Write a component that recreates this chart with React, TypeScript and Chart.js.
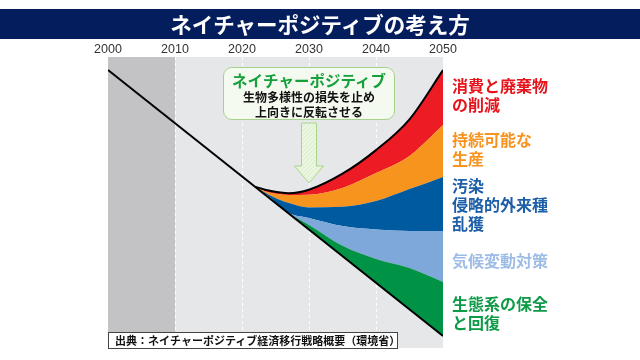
import React, { useEffect, useRef } from "react";
import { Chart, registerables } from "chart.js";

Chart.register(...registerables);

// ---- data ----
const tickYears = [2000, 2010, 2020, 2030, 2040, 2050];
const baselineYears = [2000, 2050];
const baselineValues = [95.5, 4.1];
const curveYears = [2022, 2024, 2027, 2030, 2035, 2040, 2045, 2050];
const topCurve = [55.3, 54.1, 53.2, 54.4, 59.9, 68.0, 78.6, 95.5];
const redOrange = [55.3, 53.4, 52.6, 52.7, 55.0, 60.1, 66.0, 76.6];
const orangeBlue = [55.3, 52.7, 49.8, 48.3, 48.5, 50.5, 54.6, 58.8];
const blueLight = [55.3, 52.1, 46.4, 44.7, 41.9, 40.7, 40.2, 40.2];
const lightGreen = [55.3, 51.6, 46.3, 42.3, 35.1, 30.6, 27.5, 22.7];
const periodStarts = [2000, 2010];
const periodEnds = [2010, 2050];

const titleText = "ネイチャーポジティブの考え方";
const calloutTitle = "ネイチャーポジティブ";
const calloutLines = ["生物多様性の損失を止め", "上向きに反転させる"];
const sourceText = "出典：ネイチャーポジティブ経済移行戦略概要（環境省）";
const labelRed = ["消費と廃棄物", "の削減"];
const labelOrange = ["持続可能な", "生産"];
const labelBlue = ["汚染", "侵略的外来種", "乱獲"];
const labelLight = ["気候変動対策"];
const labelGreen = ["生態系の保全", "と回復"];

const periodColors = ["#c3c3c5", "#e6e7e9"];
const JP = '"Noto Sans CJK JP", "Noto Sans", sans-serif';

const pts = (xs: number[], ys: number[]) => xs.map((x, i) => ({ x, y: ys[i] }));

const bgPlugin = {
  id: "bgPeriods",
  beforeDraw(chart: any) {
    const { ctx, chartArea, scales } = chart;
    const x = scales.x;
    ctx.save();
    periodStarts.forEach((s, i) => {
      const x0 = x.getPixelForValue(s);
      const x1 = x.getPixelForValue(periodEnds[i]);
      ctx.fillStyle = periodColors[i];
      ctx.fillRect(x0, chartArea.top, x1 - x0, chartArea.bottom - chartArea.top);
    });
    ctx.restore();
  },
};

function ChartCanvas() {
  const ref = useRef<HTMLCanvasElement>(null);
  useEffect(() => {
    if (!ref.current) return;
    const band = (data: number[], color: string, extra: any = {}) => ({
      data: pts(curveYears, data),
      backgroundColor: color,
      borderWidth: 0,
      borderColor: "rgba(0,0,0,0)",
      fill: "-1",
      cubicInterpolationMode: "monotone",
      pointRadius: 0,
      ...extra,
    });
    const chart = new Chart(ref.current, {
      type: "line",
      data: {
        datasets: [
          {
            data: pts(baselineYears, baselineValues),
            borderColor: "#000",
            borderWidth: 2,
            fill: false,
            pointRadius: 0,
          },
          band(lightGreen, "#009245"),
          band(blueLight, "#7fa8da"),
          band(orangeBlue, "#005a9f"),
          band(redOrange, "#f7941e"),
          band(topCurve, "#ed1c24", { borderColor: "#000", borderWidth: 2 }),
        ] as any,
      },
      options: {
        responsive: false,
        animation: false,
        layout: { padding: { left: 108, right: 197, top: 43, bottom: 12 } },
        plugins: {
          legend: { display: false },
          tooltip: { enabled: false },
        },
        scales: {
          x: {
            type: "linear",
            position: "top",
            min: 2000,
            max: 2050,
            afterBuildTicks: (s: any) => {
              s.ticks = tickYears.map((v) => ({ value: v }));
            },
            afterFit: (s: any) => {
              s.height = 14;
            },
            ticks: {
              autoSkip: false,
              maxRotation: 0,
              padding: 0,
              color: "#333",
              font: { family: '"Liberation Sans", Arial, sans-serif', size: 12.5 },
              callback: (v: any) => String(v),
            },
            grid: {
              drawTicks: false,
              lineWidth: 1,
              color: (c: any) =>
                c.tick && (c.tick.value === 2000 || c.tick.value === 2050)
                  ? "rgba(0,0,0,0)"
                  : "rgba(255,255,255,0.95)",
            },
            border: { display: false, dash: [3, 3] },
          },
          y: { display: false, min: 0, max: 100 },
        },
      } as any,
      plugins: [bgPlugin],
    });
    return () => chart.destroy();
  }, []);
  return <canvas ref={ref} width={640} height={360} style={{ display: "block", position: "absolute", left: 0, top: 0 }} />;
}

const labelStyle = (top: number, color: string): React.CSSProperties => ({
  position: "absolute",
  left: 452,
  top,
  color,
  fontFamily: JP,
  fontWeight: 700,
  fontSize: 16,
  lineHeight: "19px",
  whiteSpace: "nowrap",
});

export default function App() {
  return (
    <div style={{ position: "fixed", left: 0, top: 0, width: 640, height: 360, background: "#fff", overflow: "hidden" }}>
      <ChartCanvas />
      <div
        style={{
          position: "absolute",
          left: 0,
          top: 9,
          width: 640,
          height: 30,
          background: "#041d5c",
          color: "#fff",
          fontFamily: JP,
          fontWeight: 700,
          fontSize: 21.5,
          lineHeight: "30px",
          textAlign: "center",
        }}
      >
        {titleText}
      </div>
      {/* callout */}
      <div
        style={{
          position: "absolute",
          left: 223,
          top: 67,
          width: 172,
          height: 53,
          boxSizing: "border-box",
          border: "1px solid #a9d18e",
          borderRadius: 9,
          background: "#f5faf0",
          fontFamily: JP,
          fontWeight: 700,
          textAlign: "center",
        }}
      >
        <div style={{ color: "#16a03c", fontSize: 15.5, lineHeight: "20px", marginTop: 2 }}>{calloutTitle}</div>
        {calloutLines.map((t) => (
          <div key={t} style={{ color: "#111", fontSize: 12, lineHeight: "14.5px" }}>
            {t}
          </div>
        ))}
      </div>
      <svg width={640} height={360} style={{ position: "absolute", left: 0, top: 0 }}>
        <defs>
          <pattern id="hatch" width="3" height="3" patternUnits="userSpaceOnUse" patternTransform="rotate(45)">
            <rect width="3" height="3" fill="#eef7e4" />
            <line x1="0" y1="0" x2="0" y2="3" stroke="#cfe8bb" strokeWidth="1.2" />
          </pattern>
        </defs>
        <polygon
          points="301.5,123 316.5,123 316.5,166 323.5,166 309,183 294.5,166 301.5,166"
          fill="url(#hatch)"
          stroke="#a6d58f"
          strokeWidth="1"
        />
      </svg>
      {/* right labels */}
      <div style={labelStyle(75.5, "#e8141c")}>{labelRed.map((t) => <div key={t}>{t}</div>)}</div>
      <div style={labelStyle(129.5, "#f7931e")}>{labelOrange.map((t) => <div key={t}>{t}</div>)}</div>
      <div style={labelStyle(175.5, "#1c5ea8")}>{labelBlue.map((t) => <div key={t}>{t}</div>)}</div>
      <div style={labelStyle(250.5, "#9ebde6")}>{labelLight.map((t) => <div key={t}>{t}</div>)}</div>
      <div style={labelStyle(293.5, "#0f9a48")}>{labelGreen.map((t) => <div key={t}>{t}</div>)}</div>
      {/* source */}
      <div
        style={{
          position: "absolute",
          left: 108,
          top: 332,
          width: 290,
          height: 17,
          boxSizing: "border-box",
          border: "1px solid #444",
          background: "#fff",
          fontFamily: JP,
          fontWeight: 700,
          fontSize: 11,
          lineHeight: "15px",
          paddingLeft: 6,
          color: "#111",
          whiteSpace: "nowrap",
        }}
      >
        {sourceText}
      </div>
    </div>
  );
}
